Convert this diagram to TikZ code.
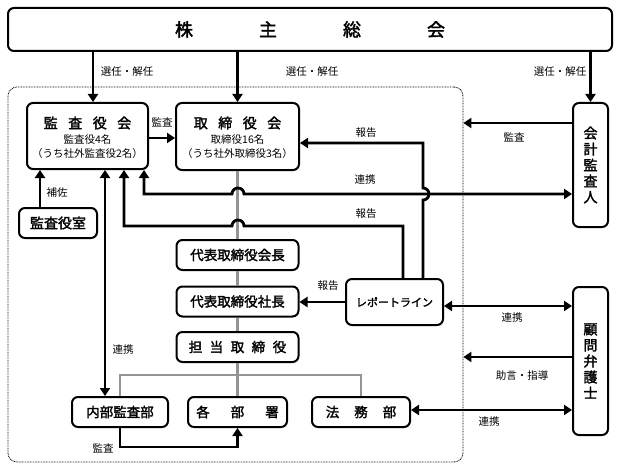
\documentclass[tikz,border=0pt]{standalone}
\usepackage{fontspec}
\setmainfont{Noto Sans CJK JP}[AutoFakeBold=2]
\usetikzlibrary{arrows.meta,calc}
\newcommand\myfs[1]{\fontsize{#1}{#1}\selectfont}
\begin{document}
\begin{tikzpicture}[x=1pt,y=-1pt,
  box/.style={draw,line width=2pt,rounded corners=6pt,fill=white,inner sep=0pt},
  arr/.style={line width=2.8pt,-{Triangle[length=8pt,width=10pt]}},
  darr/.style={line width=2.8pt,{Triangle[length=8pt,width=10pt]}-{Triangle[length=8pt,width=10pt]}},
  gline/.style={line width=2.4pt,draw=black!42},
  lbl/.style={font=\myfs{10.5},inner sep=0pt},
  ttl/.style={font=\bfseries\myfs{14},inner sep=0pt},
  sub/.style={font=\myfs{10.5},inner sep=0pt},
  bt/.style={font=\bfseries\myfs{13.5}}
]
\useasboundingbox (0,0) rectangle (618,468);

% group (dotted)
\node[draw,line width=0.8pt,dash pattern=on 0.8pt off 0.8pt,rounded corners=9pt,
      minimum width=455pt,minimum height=375pt,inner sep=0pt] (grp) at (235.5,274.5) {};

% coordinates
\coordinate (x40) at (40,0);
\coordinate (x93) at (93,0);
\coordinate (x105) at (105,0);
\coordinate (x124) at (124,0);
\coordinate (x144) at (144,0);
\coordinate (x403) at (403,0);
\coordinate (x423) at (423,0);
\coordinate (h123) at (0,123);
\coordinate (h138) at (0,138);
\coordinate (h143) at (0,143);
\coordinate (h194) at (0,194);
\coordinate (h226) at (0,226);
\coordinate (h306) at (0,306);
\coordinate (h357) at (0,357);
\coordinate (h375) at (0,375);
\coordinate (h410) at (0,410);
\coordinate (h447) at (0,447);

% nodes
\node[box,minimum width=604pt,minimum height=43pt,font=\bfseries\myfs{18}] (top) at (310,29.5)
  {株\hspace{66pt}主\hspace{66pt}総\hspace{66pt}会};

\node[box,minimum width=121pt,minimum height=66pt] (kansa) at (87.5,136) {};
\node[ttl] (kansaT) at (87.5,123) {監\hspace{10.5pt}査\hspace{10.5pt}役\hspace{10.5pt}会};
\node[sub] (kansaS1) at (87.5,140) {監査役4名};
\node[sub] (kansaS2) at (87.5,154) {（うち社外監査役2名）};

\node[box,minimum width=123pt,minimum height=67pt] (tori) at (237.5,136.5) {};
\node[ttl] (toriT) at (237.5,123) {取\hspace{10.5pt}締\hspace{10.5pt}役\hspace{10.5pt}会};
\node[sub] (toriS1) at (237.5,140) {取締役16名};
\node[sub] (toriS2) at (237.5,154) {（うち社外取締役3名）};

\node[box,minimum width=78pt,minimum height=30pt,font=\bfseries\myfs{14}] (shitsu) at (58,223) {監査役室};

\node[box,minimum width=122pt,minimum height=30pt,bt] (kaichou) at (237.5,255) {代表取締役会長};
\node[box,minimum width=122pt,minimum height=30pt,bt] (shachou) at (237.5,301.5) {代表取締役社長};
\node[box,minimum width=122pt,minimum height=30pt,bt] (tantou) at (237.5,347)
  {担\hspace{7.5pt}当\hspace{7.5pt}取\hspace{7.5pt}締\hspace{7.5pt}役};

\node[box,minimum width=96pt,minimum height=30pt,bt] (naibu) at (120,412) {内部監査部};
\node[box,minimum width=99pt,minimum height=30pt,bt] (kakubu) at (237.5,412) {各\hspace{21pt}部\hspace{21pt}署};
\node[box,minimum width=98pt,minimum height=30pt,bt] (houmu) at (361,412) {法\hspace{15pt}務\hspace{15pt}部};

\node[box,minimum width=97pt,minimum height=46pt,font=\bfseries\myfs{11}] (report) at (394.5,302) {レポートライン};

\node[box,minimum width=35pt,minimum height=124pt,align=center,font=\bfseries\fontsize{14}{16}\selectfont] (kaikei) at (590.5,165)
  {会\\計\\監\\査\\人};
\node[box,minimum width=35pt,minimum height=148pt,align=center,font=\bfseries\fontsize{14}{16}\selectfont] (bengoshi) at (590.5,361)
  {顧\\問\\弁\\護\\士};

% gray organisation lines
\begin{scope}[on background layer/.style={}]
\draw[gline] (tori.south) -- (kaichou.north);
\draw[gline] (kaichou.south) -- (shachou.north);
\draw[gline] (shachou.south) -- (tantou.north);
\draw[gline] (tantou.south) -- (kakubu.north);
\draw[gline] (naibu.north) |- (h375 -| houmu.north) -- (houmu.north);
\end{scope}

% election arrows
\draw[arr] (top.south -| x93) -- (kansa.north -| x93);
\draw[arr] (top.south -| tori.north) -- (tori.north);
\draw[arr] (top.south -| kaikei.north) -- (kaikei.north);
\node[lbl] (sen1) at (127,72) {選任・解任};
\node[lbl] (sen2) at (312,72) {選任・解任};
\node[lbl] (sen3) at (560,72) {選任・解任};

% audit board -> board
\draw[arr] (kansa.east |- h138) -- (tori.west |- h138);
\node[lbl] (lk1) at (162,122) {監査};

% accounting auditor -> group
\draw[arr] (kaikei.west |- h123) -- (grp.east |- h123);
\node[lbl] (lk2) at (514,137) {監査};

% cooperation audit board <-> accounting auditor
\draw[darr] (kansa.south -| x144) -- (144,194) -- (232,194)
  arc[start angle=180,end angle=360,radius=6] -- (kaikei.west |- h194);
\node[lbl] (lr1) at (365,180) {連携};

% report line -> board
\draw[arr] (report.north -| x423) -- (423,200)
  arc[start angle=90,end angle=-90,radius=6] -- (423,143) -- (tori.east |- h143);
\node[lbl] (lh1) at (366,133) {報告};

% report line -> audit board
\draw[arr] (report.north -| x403) -- (403,226) -- (244,226)
  arc[start angle=0,end angle=-180,radius=6] -- (124,226) -- (kansa.south -| x124);
\node[lbl] (lh2) at (366,214) {報告};

% assistance
\draw[arr] (shitsu.north -| x40) -- (kansa.south -| x40);
\node[lbl] (lho) at (57,193) {補佐};

% audit board <-> internal audit
\draw[darr] (kansa.south -| x105) -- (naibu.north -| x105);
\node[lbl] (lr2) at (123,350) {連携};

% internal audit -> departments
\draw[arr] (naibu.south) -- (naibu.south |- h447) -| (kakubu.south);
\node[lbl] (lk3) at (103,448) {監査};

% report line -> president
\draw[arr] (report.west) -- (report.west -| shachou.east);
\node[lbl] (lh3) at (328,286) {報告};

% lawyer connections
\draw[darr] (report.east |- h306) -- (bengoshi.west |- h306);
\node[lbl] (lr3) at (512,318) {連携};
\draw[arr] (bengoshi.west |- h357) -- (grp.east |- h357);
\node[lbl] (ljo) at (522,376) {助言・指導};
\draw[darr] (houmu.east |- h410) -- (bengoshi.west |- h410);
\node[lbl] (lr4) at (489,422) {連携};
\end{tikzpicture}
\end{document}
